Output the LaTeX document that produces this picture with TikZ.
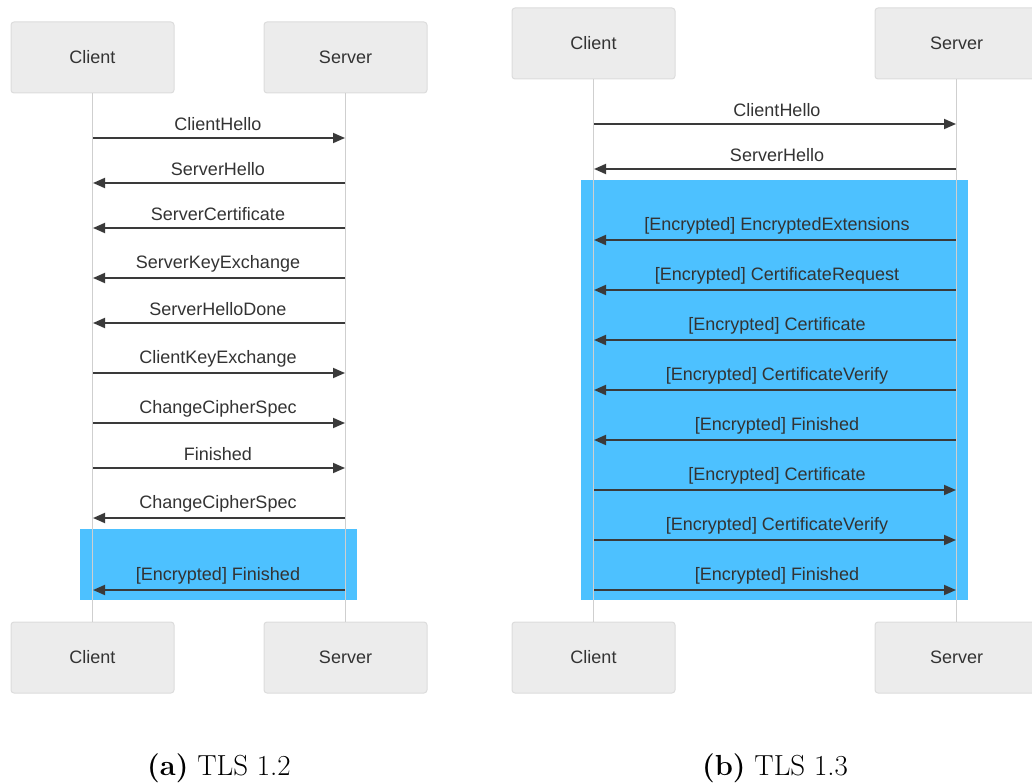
\documentclass[tikz,border=0pt]{standalone}
\usepackage{fontspec}
\newfontfamily\diasans{Liberation Sans}
\usetikzlibrary{arrows.meta}
\definecolor{boxfill}{HTML}{ECECEC}
\definecolor{boxdraw}{HTML}{DCDCDC}
\definecolor{lifeline}{HTML}{CFCFCF}
\definecolor{msgcol}{HTML}{3A3A3A}
\definecolor{encblue}{HTML}{4DC1FF}
\definecolor{txtcol}{HTML}{333333}
\tikzset{
  actor/.style={draw=boxdraw, line width=1pt, fill=boxfill, rounded corners=3pt,
    minimum width=163pt, minimum height=71pt, inner sep=0pt,
    font=\diasans\fontsize{18}{21}\selectfont, text=txtcol},
  life/.style={draw=lifeline, line width=1.8pt},
  msg/.style={draw=msgcol, line width=1.8pt, -{Triangle[length=12pt,width=10pt]}},
  lbl/.style={font=\diasans\fontsize{18}{21}\selectfont, text=txtcol, inner sep=0pt},
  captext/.style={font=\fontsize{29}{33}\selectfont, inner sep=0pt}
}
\begin{document}
\begin{tikzpicture}[x=1pt,y=-1pt]
\useasboundingbox (0,0) rectangle (1032,783);
% ---------- (a) TLS 1.2 ----------
\fill[encblue] (80,529) rectangle (357,600);
\node[actor] (ac1) at (92.5,57.5) {Client};
\node[actor] (as1) at (345.5,57.5) {Server};
\node[actor] (ac2) at (92.5,657.5) {Client};
\node[actor] (as2) at (345.5,657.5) {Server};
\draw[life] (ac1.south) -- (ac2.north);
\draw[life] (as1.south) -- (as2.north);
\foreach \yy/\tt/\dd [count=\i] in {
  138/ClientHello/r, 183/ServerHello/l, 228/ServerCertificate/l,
  278/ServerKeyExchange/l, 323/ServerHelloDone/l, 373/ClientKeyExchange/r,
  423/ChangeCipherSpec/r, 468/Finished/r, 518/ChangeCipherSpec/l,
  590/{[Encrypted] Finished}/l}{
  \coordinate (pc\i) at (93,\yy);
  \coordinate (ps\i) at (345,\yy);
  \if\dd r
    \draw[msg] (pc\i) -- (ps\i);
  \else
    \draw[msg] (ps\i) -- (pc\i);
  \fi
  \node[lbl] (al\i) at (218,\yy-14) {\tt};
}
\node[captext] (capa) at (219,768) {\textbf{(a)} TLS 1.2};
% ---------- (b) TLS 1.3 ----------
\fill[encblue] (581,180) rectangle (968,600);
\node[actor] (bc1) at (593.5,43.5) {Client};
\node[actor] (bs1) at (956.5,43.5) {Server};
\node[actor] (bc2) at (593.5,657.5) {Client};
\node[actor] (bs2) at (956.5,657.5) {Server};
\draw[life] (bc1.south) -- (bc2.north);
\draw[life] (bs1.south) -- (bs2.north);
\foreach \yy/\tt/\dd [count=\i] in {
  124/ClientHello/r, 169/ServerHello/l,
  240/{[Encrypted] EncryptedExtensions}/l,
  290/{[Encrypted] CertificateRequest}/l,
  340/{[Encrypted] Certificate}/l,
  390/{[Encrypted] CertificateVerify}/l,
  440/{[Encrypted] Finished}/l,
  490/{[Encrypted] Certificate}/r,
  540/{[Encrypted] CertificateVerify}/r,
  590/{[Encrypted] Finished}/r}{
  \coordinate (qc\i) at (594,\yy);
  \coordinate (qs\i) at (956,\yy);
  \if\dd r
    \draw[msg] (qc\i) -- (qs\i);
  \else
    \draw[msg] (qs\i) -- (qc\i);
  \fi
  \node[lbl] (bl\i) at (777,\yy-14) {\tt};
}
\node[captext] (capb) at (775,768) {\textbf{(b)} TLS 1.3};
\end{tikzpicture}
\end{document}
